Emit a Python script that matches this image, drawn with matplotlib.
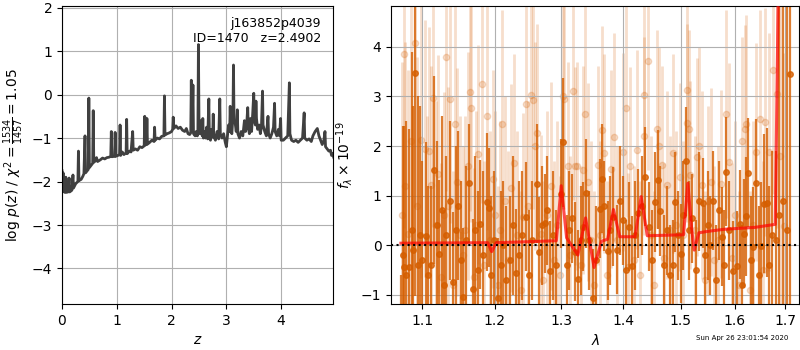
import numpy as np
import matplotlib
matplotlib.use('Agg')
import matplotlib.pyplot as plt

# p(z) curve
pz_z = [0.00, 0.01, 0.02, 0.03, 0.05, 0.07, 0.08, 0.11, 0.13, 0.14, 0.18, 0.20, 0.21, 0.25,
        0.29, 0.30, 0.31, 0.35, 0.38, 0.40, 0.42, 0.43, 0.46, 0.48, 0.49, 0.50, 0.53, 0.56,
        0.57, 0.58, 0.61, 0.63, 0.65, 0.70, 0.74, 0.78, 0.82, 0.86, 0.89, 0.90, 0.91, 0.96,
        0.97, 0.98, 1.02, 1.05, 1.06, 1.07, 1.10, 1.13, 1.17, 1.18, 1.19, 1.23, 1.26, 1.29,
        1.30, 1.34, 1.38, 1.42, 1.46, 1.50, 1.51, 1.52, 1.54, 1.55, 1.56, 1.60, 1.64, 1.68,
        1.69, 1.70, 1.74, 1.78, 1.82, 1.86, 1.87, 1.88, 1.92, 1.96, 2.00, 2.02, 2.03, 2.04,
        2.08, 2.12, 2.16, 2.20, 2.24, 2.27, 2.30, 2.33, 2.35, 2.36, 2.37, 2.38, 2.39, 2.40,
        2.43, 2.45, 2.47, 2.48, 2.4902, 2.50, 2.52, 2.54, 2.56, 2.57, 2.58, 2.60, 2.62, 2.64,
        2.66, 2.68, 2.69, 2.71, 2.73, 2.75, 2.76, 2.77, 2.80, 2.83, 2.86, 2.88, 2.89, 2.92,
        2.95, 2.98, 3.00, 3.02, 3.04, 3.06, 3.07, 3.08, 3.10, 3.12, 3.13, 3.14, 3.16, 3.18,
        3.20, 3.21, 3.24, 3.27, 3.30, 3.33, 3.35, 3.37, 3.39, 3.40, 3.42, 3.44, 3.46, 3.48,
        3.50, 3.51, 3.53, 3.54, 3.55, 3.57, 3.60, 3.62, 3.64, 3.66, 3.67, 3.70, 3.73, 3.76,
        3.77, 3.80, 3.83, 3.86, 3.88, 3.89, 3.92, 3.95, 3.97, 3.99, 4.00, 4.04, 4.08, 4.12,
        4.15, 4.16, 4.19, 4.23, 4.27, 4.31, 4.35, 4.39, 4.42, 4.43, 4.47, 4.51, 4.55, 4.58,
        4.62, 4.66, 4.69, 4.72, 4.75, 4.78, 4.80, 4.81, 4.84, 4.87, 4.90, 4.92, 4.94, 4.96,
        4.98]
pz_log = [-1.75, -2.20, -1.80, -2.22, -2.25, -1.90, -2.25, -2.24, -1.92, -2.24, -2.20, -1.85, -2.15, -2.05,
          -2.00, -1.30, -1.98, -1.95, -1.88, -1.82, -0.95, -1.80, -1.75, -1.72, -0.08, -1.68, -1.63, -1.58,
          -0.37, -1.56, -1.52, -1.45, -1.54, -1.50, -1.46, -1.48, -1.45, -1.44, -1.42, -0.85, -1.43, -1.42,
          -0.87, -1.42, -1.40, -1.38, -0.70, -1.40, -1.32, -1.38, -1.34, -0.57, -1.36, -1.30, -1.32, -0.85,
          -1.28, -1.25, -1.28, -1.20, -1.22, -1.18, -0.50, -1.16, -1.15, -0.55, -1.14, -1.10, -1.05, -1.08,
          -0.75, -1.05, -1.00, -1.02, -0.96, -0.95, -0.03, -0.93, -0.90, -0.88, -0.85, -0.80, -0.52, -0.78,
          -0.72, -0.78, -0.75, -0.82, -0.85, -0.78, -0.90, -0.92, -0.88, 0.33, -0.85, -0.50, 0.22, -0.90,
          -0.95, -0.85, -0.95, -0.90, 1.15, -0.55, -0.90, -0.60, -0.95, -0.55, -1.00, -0.85, -1.00, -0.75,
          -1.02, -0.10, -0.95, -1.05, -0.80, -0.98, -0.45, -0.95, -1.05, -0.85, -1.02, -0.10, -0.90, -1.00,
          -0.90, -1.10, -1.20, -0.95, -0.70, -0.85, -0.27, -0.80, -0.90, -0.50, 0.68, -0.60, -0.65, -0.85,
          -0.35, -0.90, -1.00, -0.85, -0.95, -0.60, -0.85, -0.70, -0.30, -0.75, -0.90, -0.55, -0.85, -0.45,
          0.03, -0.60, -0.70, -0.15, -0.55, -0.80, -0.70, -0.90, -0.75, 0.08, -0.70, -0.85, -0.95, -0.50,
          -0.90, -1.00, -0.90, -0.75, -0.20, -0.85, -0.95, -0.80, -0.95, -0.55, -1.05, -1.05, -1.00, -0.95,
          0.27, -0.90, -1.05, -1.08, -1.05, -1.10, -1.05, -1.00, -0.42, -1.00, -1.05, -1.02, -1.08, -0.95,
          -0.85, -0.78, -0.95, -1.05, -1.15, -1.05, -0.85, -1.20, -1.25, -1.30, -1.28, -1.40, -1.35, -1.45,
          -1.50]

# spectrum, two sets of points
wave_dark = [1.0722, 1.0745, 1.0761, 1.0790, 1.0830, 1.0860, 1.0880, 1.0905, 1.0940, 1.0975,
             1.1000, 1.1045, 1.1080, 1.1115, 1.1160, 1.1195, 1.1227, 1.1260, 1.1290, 1.1320,
             1.1370, 1.1417, 1.1450, 1.1480, 1.1520, 1.1555, 1.1590, 1.1638, 1.1686, 1.1720,
             1.1755, 1.1789, 1.1830, 1.1885, 1.1913, 1.1950, 1.1990, 1.2051, 1.2085, 1.2116,
             1.2160, 1.2222, 1.2260, 1.2310, 1.2350, 1.2400, 1.2457, 1.2500, 1.2550, 1.2619,
             1.2656, 1.2700, 1.2747, 1.2782, 1.2824, 1.2870, 1.2916, 1.2987, 1.3029, 1.3080,
             1.3120, 1.3158, 1.3211, 1.3259, 1.3300, 1.3342, 1.3385, 1.3437, 1.3502, 1.3550,
             1.3611, 1.3643, 1.3686, 1.3742, 1.3785, 1.3830, 1.3901, 1.3950, 1.3995, 1.4045,
             1.4091, 1.4152, 1.4200, 1.4249, 1.4317, 1.4369, 1.4438, 1.4490, 1.4536, 1.4594,
             1.4634, 1.4700, 1.4760, 1.4800, 1.4853, 1.4894, 1.4950, 1.5000, 1.5045, 1.5090,
             1.5150, 1.5203, 1.5270, 1.5336, 1.5403, 1.5440, 1.5490, 1.5542, 1.5593, 1.5640,
             1.5698, 1.5760, 1.5800, 1.5841, 1.5900, 1.5967, 1.6043, 1.6095, 1.6140, 1.6184,
             1.6222, 1.6269, 1.6320, 1.6367, 1.6418, 1.6470, 1.6511, 1.6577, 1.6631, 1.6680,
             1.6740, 1.6818, 1.6880, 1.6950, 1.7030, 1.7104]
flux_dark = [-1.45, -0.20, -0.45, -0.60, -0.45, 0.30, -0.10, 3.47, -0.40, 0.20,
             -0.30, 0.18, -0.60, -0.40, 1.52, 0.40, -0.18, 0.70, -0.80, 0.20,
             0.90, -0.74, 0.30, 0.80, -0.30, -1.05, 0.10, 1.25, -0.88, 0.30,
             -0.50, 0.42, -0.20, 0.87, 0.76, -0.60, 0.10, -1.06, -0.40, 0.00,
             -0.70, -0.30, 0.40, -0.57, -0.20, 0.20, 0.57, -0.60, 0.10, 1.24,
             -0.13, 0.40, 0.44, 0.70, -0.52, 0.20, -0.40, 1.04, 2.08, -0.39,
             0.30, 0.54, -0.13, -0.69, 0.10, 0.37, 1.05, 0.10, -1.07, -0.30,
             0.74, 1.34, 0.79, -0.11, 0.30, 0.57, -0.09, 0.90, 0.50, -0.50,
             0.37, -0.42, 0.20, 0.64, 0.80, 1.38, 0.37, -0.30, 0.87, 1.32,
             0.69, -0.40, 0.30, -0.60, -0.39, 0.87, 0.20, -0.17, 0.60, 1.69,
             0.30, 0.54, -0.50, 0.89, 0.85, -0.20, 0.40, 0.00, 0.90, -0.70,
             0.70, 0.17, -0.40, 1.48, 0.30, -0.52, -0.42, 0.42, -0.80, 0.23,
             0.58, 1.46, -0.30, -0.03, 1.25, -0.60, -0.02, 0.84, 0.86, -0.40,
             0.20, 0.10, 0.60, 0.90, 0.30, 3.46]
err_dark = [0.85, 2.60, 2.85, 3.10, 2.80, 3.60, 2.90, 4.50, 3.40, 2.60,
            2.00, 1.90, 1.80, 1.60, 1.90, 1.70, 1.50, 1.90, 1.50, 1.60,
            1.60, 1.40, 1.70, 1.50, 1.60, 1.40, 1.50, 1.20, 1.40, 1.50,
            1.60, 1.30, 1.70, 1.40, 1.20, 1.60, 1.40, 1.20, 1.50, 1.30,
            1.50, 1.30, 1.40, 1.30, 1.50, 1.30, 1.10, 1.30, 1.20, 1.20,
            1.10, 1.20, 1.00, 1.10, 1.00, 1.30, 1.10, 1.10, 1.30, 1.00,
            1.20, 0.90, 1.00, 1.00, 1.10, 0.90, 1.10, 1.00, 1.00, 1.10,
            1.00, 1.10, 0.90, 1.00, 1.10, 1.00, 0.90, 1.10, 0.90, 1.00,
            0.90, 1.00, 1.10, 0.90, 1.00, 1.00, 0.90, 1.00, 1.00, 1.00,
            0.90, 1.00, 0.90, 1.00, 0.90, 1.00, 0.90, 1.00, 1.10, 1.10,
            1.00, 0.90, 1.00, 1.00, 0.90, 1.00, 1.10, 1.00, 1.00, 1.10,
            1.00, 1.00, 1.10, 1.10, 1.00, 1.00, 1.10, 1.10, 1.20, 1.10,
            1.20, 1.10, 1.30, 1.20, 1.30, 1.40, 1.30, 1.40, 1.50, 1.60,
            1.70, 1.80, 5.00, 5.50, 5.50, 5.50]

wave_light = [1.0735, 1.0763, 1.0780, 1.0820, 1.0850, 1.0905, 1.0930, 1.0984, 1.1035, 1.1060,
              1.1090, 1.1120, 1.1146, 1.1180, 1.1215, 1.1250, 1.1285, 1.1318, 1.1345, 1.1370,
              1.1410, 1.1441, 1.1470, 1.1510, 1.1545, 1.1580, 1.1620, 1.1648, 1.1660, 1.1700,
              1.1735, 1.1765, 1.1812, 1.1850, 1.1885, 1.1930, 1.1970, 1.2010, 1.2050, 1.2080,
              1.2110, 1.2150, 1.2190, 1.2230, 1.2280, 1.2330, 1.2380, 1.2420, 1.2460, 1.2490,
              1.2535, 1.2566, 1.2600, 1.2625, 1.2680, 1.2720, 1.2780, 1.2840, 1.2880, 1.2930,
              1.2980, 1.3016, 1.3040, 1.3100, 1.3140, 1.3173, 1.3210, 1.3250, 1.3300, 1.3340,
              1.3369, 1.3420, 1.3470, 1.3520, 1.3580, 1.3620, 1.3648, 1.3680, 1.3730, 1.3790,
              1.3842, 1.3900, 1.3995, 1.4041, 1.4080, 1.4120, 1.4180, 1.4230, 1.4290, 1.4347,
              1.4360, 1.4426, 1.4480, 1.4530, 1.4585, 1.4620, 1.4660, 1.4700, 1.4760, 1.4810,
              1.4860, 1.4920, 1.4980, 1.5040, 1.5107, 1.5110, 1.5140, 1.5170, 1.5250, 1.5300,
              1.5330, 1.5380, 1.5440, 1.5500, 1.5560, 1.5610, 1.5680, 1.5740, 1.5836, 1.5900,
              1.5950, 1.6010, 1.6080, 1.6150, 1.6200, 1.6230, 1.6290, 1.6350, 1.6420, 1.6500,
              1.6560, 1.6600, 1.6680, 1.6763, 1.6843, 1.6900, 1.6985]
flux_light = [0.60, 3.85, 1.19, 0.23, 2.10, 4.07, 0.80, 2.13, 1.95, 0.10,
              1.90, 1.22, 2.97, 0.40, 1.43, -0.64, 0.60, 3.80, 0.80, 2.95,
              -0.80, 2.45, 1.27, 0.20, -0.20, 0.30, 1.60, 3.09, 2.77, -0.64,
              0.40, 1.83, 3.25, -0.40, 2.61, 0.10, 1.34, 0.60, -0.80, 0.30,
              2.44, 0.90, -0.30, 1.16, 1.66, 0.20, -0.90, 0.57, 2.84, 0.80,
              3.03, 2.92, 2.00, 2.26, 0.23, -0.70, 0.60, 1.20, -0.30, 0.40,
              -0.60, 3.02, 2.94, 1.59, -0.20, 3.12, 1.59, 1.59, -0.40, 1.51,
              2.64, 1.27, 0.10, -0.80, 1.61, 0.20, 2.32, 1.85, -0.60, 1.54,
              2.18, 0.10, 1.88, 2.77, -0.45, 1.59, -0.30, 1.93, -0.60, 3.04,
              2.21, 3.72, 0.20, -0.80, 2.35, 2.00, 1.61, -0.25, 1.21, 0.30,
              1.85, 0.40, 1.38, 0.20, 3.13, 2.47, 2.35, 1.41, 0.30, 1.78,
              2.00, 1.21, -0.70, 0.90, 1.27, -0.30, 0.10, 1.24, 2.65, 1.68,
              -0.25, 0.60, -0.80, 2.11, 2.35, 2.44, -0.90, 0.40, 1.88, 2.55,
              -0.50, 2.48, 1.88, 3.54, 3.05, 1.80, 0.38]
err_light = [3.10, 3.50, 2.90, 3.30, 3.70, 3.30, 3.00, 2.80, 2.60, 2.50,
             2.50, 2.40, 2.60, 2.50, 2.40, 2.30, 2.50, 2.70, 2.40, 2.50,
             2.30, 2.40, 2.30, 2.40, 2.20, 2.30, 2.30, 2.40, 2.30, 2.20,
             2.30, 2.20, 2.40, 2.10, 2.30, 2.20, 2.20, 2.10, 2.00, 2.20,
             2.30, 2.10, 2.20, 2.10, 2.20, 2.10, 2.00, 2.10, 2.20, 2.10,
             2.30, 2.20, 2.10, 2.20, 2.00, 2.00, 2.10, 2.10, 2.00, 2.10,
             2.00, 2.30, 2.20, 2.10, 2.00, 2.20, 2.00, 2.10, 2.00, 2.10,
             2.20, 2.00, 2.00, 1.90, 2.00, 1.90, 2.10, 2.00, 1.90, 2.00,
             2.10, 1.90, 2.00, 2.20, 1.90, 2.00, 1.90, 2.00, 1.90, 2.20,
             2.00, 2.20, 2.00, 1.90, 2.00, 2.00, 2.00, 1.90, 1.90, 1.90,
             2.00, 1.90, 1.90, 1.90, 2.10, 2.00, 2.00, 1.90, 1.90, 2.00,
             2.00, 1.90, 1.80, 1.90, 1.90, 1.90, 1.90, 1.90, 2.10, 2.00,
             1.90, 1.90, 1.90, 2.10, 2.10, 2.20, 2.00, 2.10, 2.20, 2.20,
             2.20, 2.30, 2.40, 2.50, 2.70, 3.30, 3.50]

# best-fit model
wave_model = [1.0722, 1.1900, 1.1956, 1.2020, 1.2500, 1.2920, 1.2996, 1.3080, 1.3258, 1.3381,
              1.3518, 1.3640, 1.3740, 1.3836, 1.3940, 1.4200, 1.4303, 1.4410, 1.5050, 1.5128,
              1.5200, 1.5245, 1.5330, 1.5500, 1.5800, 1.6400, 1.6800, 1.6866]
flux_model = [0.04, 0.05, -0.13, 0.05, 0.07, 0.09, 1.20, 0.15, -0.20, 0.55,
              -0.45, 0.08, 0.12, 0.72, 0.17, 0.17, 0.98, 0.19, 0.21, 1.25,
              0.30, -0.10, 0.25, 0.28, 0.32, 0.36, 0.42, 5.50]

lam_ticks = [1.1, 1.2, 1.3, 1.4, 1.5, 1.6, 1.7]
grism_color = (0.8352941176470589, 0.3686274509803922, 0.0)

fig = plt.figure(figsize=(8, 3.5), dpi=100)

ax = fig.add_axes([0.0775, 0.131, 0.339, 0.851])
ax.plot(pz_z, pz_log, color='0.25', lw=2)
ax.set_xlim(0, 4.95)
ax.set_ylim(-4.82, 2.03)
ax.set_xlabel(r'$z$')
ax.set_ylabel(r'log $p(z)$ / $\chi^2=\frac{1534}{1457}=1.05$')
ax.text(0.955, 0.965, 'j163852p4039\nID=1470   z=2.4902', ha='right', va='top',
        fontsize=9, transform=ax.transAxes)
ax.grid()

ax2 = fig.add_axes([0.489, 0.131, 0.51, 0.851])
ax2.errorbar(wave_light, flux_light, err_light, color=grism_color, alpha=0.2,
             marker='o', ms=4.5, linestyle='None', elinewidth=2, zorder=1)
ax2.errorbar(wave_dark, flux_dark, err_dark, color=grism_color, alpha=0.8,
             marker='o', ms=4, linestyle='None', elinewidth=1.6, zorder=2)
ax2.plot(wave_model, flux_model, color='r', alpha=0.7, lw=2.2, zorder=3)
ax2.axhline(0, color='k', linestyle=':', lw=1.5, zorder=4)
ax2.set_xscale('log')
ax2.set_xticks(lam_ticks)
ax2.set_xticklabels(['%.1f' % t for t in lam_ticks])
ax2.minorticks_off()
ax2.set_xlim(1.0598, 1.729)
ax2.set_ylim(-1.19, 4.82)
ax2.set_xlabel(r'$\lambda$')
ax2.set_ylabel(r'$f_\lambda\times10^{-19}$')
ax2.grid()

fig.text(0.985, 0.025, 'Sun Apr 26 23:01:54 2020', ha='right', va='bottom', fontsize=5)

fig.savefig('out.png', dpi=100)
